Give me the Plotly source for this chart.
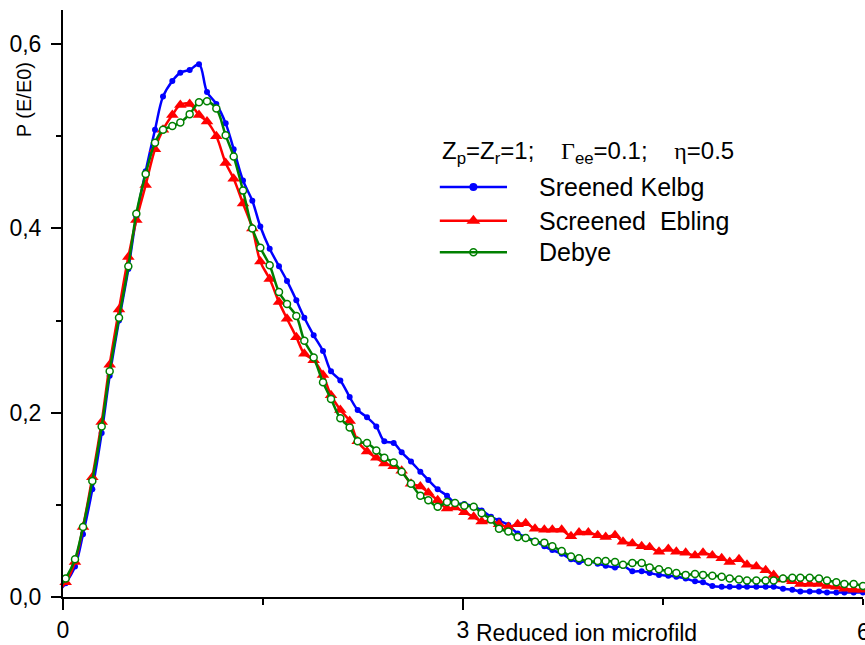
import plotly.graph_objects as go

# Reduced field values shared by the three distributions
x_field = [
    -0.04, 0.02, 0.09, 0.15, 0.22, 0.29, 0.35, 0.42, 0.49, 0.55,
    0.62, 0.69, 0.75, 0.82, 0.88, 0.95, 1.02, 1.08, 1.15, 1.22,
    1.28, 1.35, 1.42, 1.48, 1.55, 1.62, 1.68, 1.75, 1.81, 1.88,
    1.95, 2.01, 2.08, 2.15, 2.21, 2.28, 2.35, 2.41, 2.48, 2.54,
    2.61, 2.68, 2.74, 2.81, 2.88, 2.94, 3.01, 3.08, 3.14, 3.21,
    3.27, 3.34, 3.41, 3.47, 3.54, 3.61, 3.67, 3.74, 3.81, 3.87,
    3.94, 4.01, 4.07, 4.14, 4.20, 4.27, 4.34, 4.40, 4.47, 4.54,
    4.60, 4.67, 4.74, 4.80, 4.87, 4.94, 5.00, 5.07, 5.13, 5.20,
    5.27, 5.33, 5.40, 5.47, 5.53, 5.60, 5.67, 5.73, 5.80, 5.86,
    5.93, 6.00,
]

p_kelbg = [
    0.005, 0.015, 0.033, 0.068, 0.117, 0.178, 0.240, 0.300, 0.356, 0.412,
    0.462, 0.507, 0.543, 0.560, 0.569, 0.572, 0.578, 0.548, 0.535, 0.514,
    0.486, 0.452, 0.430, 0.402, 0.378, 0.359, 0.343, 0.322, 0.303, 0.284,
    0.267, 0.245, 0.235, 0.217, 0.203, 0.195, 0.185, 0.169, 0.167, 0.157,
    0.147, 0.136, 0.127, 0.117, 0.110, 0.102, 0.101, 0.098, 0.094, 0.087,
    0.083, 0.078, 0.069, 0.065, 0.061, 0.055, 0.051, 0.047, 0.041, 0.038,
    0.039, 0.036, 0.034, 0.032, 0.034, 0.028, 0.028, 0.026, 0.024, 0.023,
    0.022, 0.020, 0.017, 0.016, 0.012, 0.011, 0.011, 0.011, 0.011, 0.011,
    0.011, 0.011, 0.009, 0.008, 0.006, 0.006, 0.006, 0.005, 0.005, 0.005,
    0.005, 0.005,
]

p_ebling = [
    0.006, 0.016, 0.038, 0.076, 0.130, 0.190, 0.252, 0.312, 0.369, 0.409,
    0.447, 0.486, 0.507, 0.523, 0.534, 0.535, 0.523, 0.516, 0.500, 0.471,
    0.454, 0.427, 0.400, 0.364, 0.345, 0.320, 0.302, 0.282, 0.264, 0.257,
    0.241, 0.219, 0.203, 0.191, 0.169, 0.158, 0.151, 0.145, 0.142, 0.137,
    0.123, 0.120, 0.113, 0.105, 0.096, 0.097, 0.092, 0.087, 0.082, 0.083,
    0.079, 0.076, 0.079, 0.080, 0.074, 0.073, 0.073, 0.073, 0.066, 0.070,
    0.070, 0.067, 0.065, 0.067, 0.060, 0.058, 0.055, 0.054, 0.049, 0.052,
    0.049, 0.048, 0.045, 0.048, 0.045, 0.042, 0.038, 0.041, 0.035, 0.033,
    0.029, 0.024, 0.019, 0.017, 0.014, 0.014, 0.014, 0.012, 0.011, 0.009,
    0.008, 0.008,
]

p_debye = [
    0.008, 0.020, 0.041, 0.076, 0.126, 0.185, 0.245, 0.303, 0.359, 0.416,
    0.459, 0.493, 0.507, 0.511, 0.515, 0.524, 0.537, 0.538, 0.530, 0.501,
    0.478, 0.441, 0.400, 0.379, 0.360, 0.331, 0.318, 0.305, 0.278, 0.260,
    0.233, 0.215, 0.194, 0.184, 0.169, 0.167, 0.159, 0.151, 0.146, 0.136,
    0.123, 0.110, 0.105, 0.098, 0.103, 0.102, 0.099, 0.098, 0.091, 0.084,
    0.074, 0.071, 0.065, 0.064, 0.060, 0.059, 0.055, 0.050, 0.044, 0.042,
    0.038, 0.039, 0.039, 0.038, 0.035, 0.037, 0.037, 0.032, 0.030, 0.028,
    0.026, 0.024, 0.025, 0.024, 0.023, 0.022, 0.020, 0.019, 0.018, 0.018,
    0.018, 0.018, 0.020, 0.021, 0.021, 0.021, 0.020, 0.018, 0.016, 0.014,
    0.014, 0.012,
]

x_tick_values = [0, 3, 6]
y_tick_values = [0, 0.2, 0.4, 0.6]

series_names = ["Sreened Kelbg", "Screened\u00a0 Ebling", "Debye"]
series_values = [p_kelbg, p_ebling, p_debye]
series_colors = ["#0000FF", "#FF0000", "#008000"]
series_markers = [
    dict(symbol="circle", size=6, color="#0000FF"),
    dict(symbol="triangle-up", size=11, color="#FF0000"),
    dict(symbol="circle", size=7, color="white", line=dict(color="#008000", width=1.5)),
]
legend_markers = [
    dict(symbol="circle", size=8, color="#0000FF"),
    dict(symbol="triangle-up", size=12, color="#FF0000"),
    dict(symbol="circle", size=7, color="white", line=dict(color="#008000", width=1.5)),
]

FONT = "Liberation Sans, Arial, sans-serif"

fig = go.Figure()

for name, vals, col, mk in zip(series_names, series_values, series_colors, series_markers):
    fig.add_trace(go.Scatter(
        x=x_field, y=vals, name=name, mode="lines+markers",
        line=dict(color=col, width=2.5, shape="spline", smoothing=1.0),
        marker=mk, cliponaxis=False, showlegend=False,
    ))

# Hand-built legend block (paper coordinates)
leg_x0, leg_x1, leg_xm, leg_text_x = 0.471, 0.555, 0.513, 0.5925
leg_rows = [0.6985, 0.641, 0.5875]
for yy, name, col, mk in zip(leg_rows, series_names, series_colors, legend_markers):
    fig.add_shape(type="line", xref="paper", yref="paper",
                  x0=leg_x0, x1=leg_x1, y0=yy, y1=yy,
                  line=dict(color=col, width=2.5))
    fig.add_trace(go.Scatter(
        x=[leg_xm], y=[yy], xaxis="x2", yaxis="y2", mode="markers",
        marker=mk, showlegend=False, hoverinfo="skip", cliponaxis=False,
    ))
    fig.add_annotation(x=leg_text_x, y=yy, xref="paper", yref="paper",
                       text=name, showarrow=False, xanchor="left", yanchor="middle",
                       font=dict(family=FONT, size=25, color="black"))

greek = "font-family:Liberation Serif, DejaVu Serif, serif"
gap = "\u00a0\u00a0\u00a0 "
legend_title = (
    f"Z<sub>p</sub>=Z<sub>r</sub>=1;{gap}"
    f'<span style="{greek}">\u0393</span><sub>ee</sub>=0.1;{gap}'
    f'<span style="{greek}">\u03b7</span>=0.5'
)
fig.add_annotation(x=0.471, y=0.758, xref="paper", yref="paper",
                   text=legend_title, showarrow=False, xanchor="left", yanchor="middle",
                   font=dict(family=FONT, size=24, color="black"))

# Axis titles
fig.add_annotation(x=0.6545, y=-0.061, xref="paper", yref="paper",
                   text="Reduced ion microfild", showarrow=False,
                   xanchor="center", yanchor="middle",
                   font=dict(family=FONT, size=23, color="black"))
fig.add_annotation(x=-0.0488, y=0.848, xref="paper", yref="paper",
                   text="P (E/E0)", showarrow=False, textangle=-90,
                   xanchor="center", yanchor="middle",
                   font=dict(family=FONT, size=20, color="black"))
# Right-end tick label sits on the figure edge
fig.add_annotation(x=1.0, y=-0.059, xref="paper", yref="paper",
                   text=str(x_tick_values[-1]), showarrow=False,
                   xanchor="center", yanchor="middle",
                   font=dict(family=FONT, size=23, color="black"))

fig.update_layout(
    width=865, height=645,
    margin=dict(l=63, r=2, t=10, b=48),
    paper_bgcolor="white", plot_bgcolor="white",
    separators=",.",
    font=dict(family=FONT, size=23, color="black"),
    showlegend=False,
    xaxis=dict(
        range=[0, 6], tickvals=x_tick_values[:-1],
        ticktext=[str(v) for v in x_tick_values[:-1]],
        ticks="outside", ticklen=11, tickwidth=2, tickcolor="black",
        showline=True, linecolor="black", linewidth=2,
        showgrid=False, zeroline=False,
        minor=dict(tickvals=[1.5, 4.5, 6], ticks="outside", ticklen=6,
                   tickwidth=2, tickcolor="black", showgrid=False),
        tickfont=dict(family=FONT, size=23, color="black"),
    ),
    yaxis=dict(
        range=[0, 0.637], tickvals=y_tick_values, tickformat=".1f",
        ticks="outside", ticklen=10, tickwidth=2, tickcolor="black",
        showline=True, linecolor="black", linewidth=2,
        showgrid=False, zeroline=False, ticklabelstandoff=5,
        minor=dict(tickvals=[0.1, 0.3, 0.5], ticks="outside", ticklen=5,
                   tickwidth=2, tickcolor="black", showgrid=False),
        tickfont=dict(family=FONT, size=23, color="black"),
    ),
    xaxis2=dict(range=[0, 1], overlaying="x", visible=False, fixedrange=True),
    yaxis2=dict(range=[0, 1], overlaying="y", visible=False, fixedrange=True),
)

fig.write_html("out.html")
